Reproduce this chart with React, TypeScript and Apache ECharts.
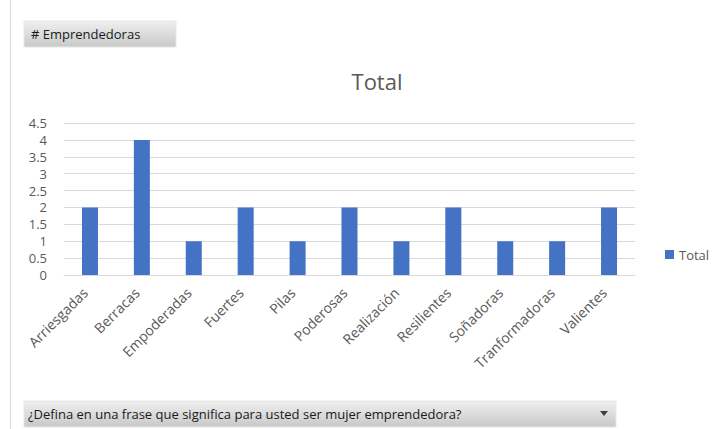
import React, { useEffect, useRef } from "react";
import * as echarts from "echarts";

const categories = ["Arriesgadas", "Berracas", "Empoderadas", "Fuertes", "Pilas", "Poderosas", "Realización", "Resilientes", "Soñadoras", "Tranformadoras", "Valientes"];
const totals = [2, 4, 1, 2, 1, 2, 1, 2, 1, 1, 2];
const seriesName = "Total";
const chartTitle = "Total";
const filterLabel = "# Emprendedoras";
const pageLabel = "¿Defina en una frase que significa para usted ser mujer emprendedora?";

export default function App() {
  const ref = useRef<HTMLDivElement>(null);
  useEffect(() => {
    if (!ref.current) return;
    const chart = echarts.init(ref.current, null, { renderer: "svg" });
    const font = "'Open Sans', 'Noto Sans', sans-serif";
    chart.setOption({
      animation: false,
      backgroundColor: "#ffffff",
      title: {
        text: chartTitle,
        left: 372,
        textAlign: "center",
        top: 65,
        textStyle: { color: "#595959", fontSize: 22, fontWeight: "normal", fontFamily: font },
      },
      legend: {
        data: [seriesName],
        left: 660,
        top: 243,
        itemWidth: 9,
        itemHeight: 9,
        itemGap: 4,
        textStyle: { color: "#595959", fontSize: 13, fontFamily: font },
        icon: "rect",
      },
      grid: { left: 64, right: 91, top: 123, bottom: 154, containLabel: false },
      xAxis: {
        type: "category",
        data: categories,
        axisLine: { show: true, lineStyle: { color: "#d9d9d9" } },
        axisTick: { show: false },
        axisLabel: {
          rotate: 45,
          color: "#595959",
          fontSize: 14,
          fontFamily: font,
          interval: 0,
          margin: 20,
          verticalAlign: "bottom",
        },
      },
      yAxis: {
        type: "value",
        min: 0,
        max: 4.5,
        interval: 0.5,
        axisLine: { show: false },
        axisTick: { show: false },
        splitLine: { lineStyle: { color: "#d9d9d9" } },
        axisLabel: { color: "#595959", fontSize: 13, fontFamily: font, margin: 17, lineHeight: 13 },
      },
      series: [
        {
          name: seriesName,
          type: "bar",
          data: totals,
          barWidth: 16,
          itemStyle: { color: "#4472C4" },
        },
      ],
      graphic: [
        { type: "line", shape: { x1: 10.5, y1: 0, x2: 10.5, y2: 429 }, style: { stroke: "#d9d9d9", lineWidth: 1 } },
        {
          type: "rect",
          shape: { x: 24, y: 21, width: 152, height: 26 },
          style: {
            fill: new echarts.graphic.LinearGradient(0, 0, 0, 1, [
              { offset: 0, color: "#f0f0f0" },
              { offset: 1, color: "#c8c8c8" },
            ]),
            stroke: "#e6e6e6",
          },
        },
        {
          type: "text",
          x: 31,
          y: 34,
          style: { text: filterLabel, fill: "#1a1a1a", fontSize: 13, fontFamily: font, verticalAlign: "middle" },
        },
        {
          type: "rect",
          shape: { x: 24, y: 401, width: 592, height: 26 },
          style: {
            fill: new echarts.graphic.LinearGradient(0, 0, 0, 1, [
              { offset: 0, color: "#f0f0f0" },
              { offset: 1, color: "#c8c8c8" },
            ]),
            stroke: "#e6e6e6",
          },
        },
        {
          type: "text",
          x: 28,
          y: 414,
          style: { text: pageLabel, fill: "#1a1a1a", fontSize: 13, fontFamily: font, verticalAlign: "middle" },
        },
        {
          type: "polygon",
          shape: { points: [[600, 411], [608, 411], [604, 416]] },
          style: { fill: "#404040" },
        },
      ],
    });
    return () => chart.dispose();
  }, []);
  return <div ref={ref} style={{ position: "fixed", left: 0, top: 0, width: 726, height: 429 }} />;
}
